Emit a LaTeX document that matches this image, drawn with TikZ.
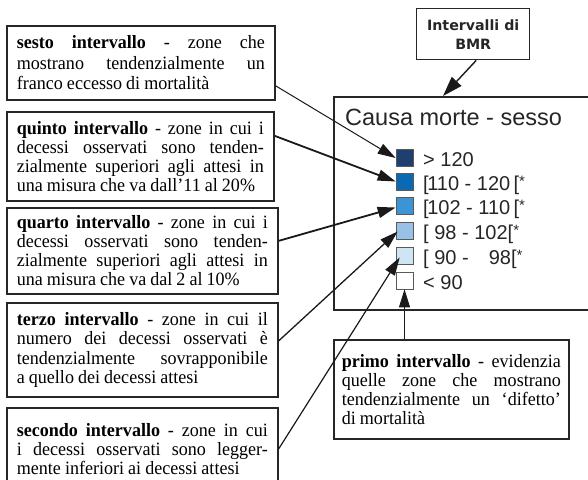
\documentclass[tikz,border=0pt]{standalone}
\usepackage{fontspec}
\setmainfont{Liberation Serif}[WordSpace=0.9,FakeStretch=0.96]
\newfontfamily\arialf{Liberation Sans}
\newfontfamily\dvsf{DejaVu Sans}
\usetikzlibrary{arrows.meta}
\hyphenpenalty=10000
\exhyphenpenalty=10000
\tolerance=9999
\emergencystretch=10pt
\definecolor{cA}{HTML}{1E3F70}
\definecolor{cB}{HTML}{0B68B3}
\definecolor{cC}{HTML}{3B95D4}
\definecolor{cD}{HTML}{99C1E8}
\definecolor{cE}{HTML}{CFE5F3}
\begin{document}
\begin{tikzpicture}[x=1pt,y=-1pt,
  tbox/.style={draw=black!85, line width=1.7pt, anchor=north west, inner xsep=10pt, inner ysep=2pt, align=justify},
  sq/.style={draw=black!65, line width=0.7pt, minimum size=17pt, inner sep=0pt},
  lab/.style={anchor=base west, inner sep=0pt, font=\arialf\fontsize{20}{20}\selectfont, text=black!85},
  arr/.style={-{Triangle[length=18pt,width=11pt]}, draw=black!90},
]
\useasboundingbox (0,0) rectangle (588,479);

% left text boxes
\node[tbox, text width=248pt, minimum height=74pt, font=\fontsize{18.8}{20.5}\selectfont] (sesto) at (6,25)
  {\textbf{sesto intervallo} - zone che\linebreak mostrano tendenzialmente un\linebreak franco eccesso di mortalità};
\node[tbox, text width=247pt, minimum height=89pt, font=\fontsize{18.8}{19}\selectfont] (quinto) at (6,111)
  {\textbf{quinto intervallo} - zone in cui i\linebreak decessi osservati sono tenden-\linebreak zialmente superiori agli attesi in\linebreak una misura che va dall’11 al 20\%};
\node[tbox, text width=251pt, minimum height=86pt, font=\fontsize{18.8}{19}\selectfont] (quarto) at (6,207)
  {\textbf{quarto intervallo} - zone in cui i\linebreak decessi osservati sono tenden-\linebreak zialmente superiori agli attesi in\linebreak una misura che va dal 2 al 10\%};
\node[tbox, text width=251pt, minimum height=94pt, font=\fontsize{18.8}{19.5}\selectfont] (terzo) at (6,302)
  {\textbf{terzo intervallo} - zone in cui il\linebreak numero dei decessi osservati è\linebreak tendenzialmente sovrapponibile\linebreak a quello dei decessi attesi};
\node[tbox, text width=251pt, minimum height=82pt, font=\fontsize{18.8}{19}\selectfont] (secondo) at (6,407)
  {\textbf{secondo intervallo} - zone in cui\linebreak i decessi osservati sono legger-\linebreak mente inferiori ai decessi attesi};

% primo box
\node[tbox, inner xsep=8pt, text width=219pt, minimum height=99pt, font=\fontsize{18.8}{19}\selectfont] (primo) at (333,339)
  {\textbf{primo intervallo} - evidenzia\linebreak quelle zone che mostrano\linebreak tendenzialmente un ‘difetto’\linebreak di mortalità};

% BMR box
\node[draw=black!85, line width=1.4pt, anchor=north west, minimum width=113pt, minimum height=51pt, inner sep=2pt, align=center,
  font=\dvsf\bfseries\fontsize{14.2}{19}\selectfont, text=black!85] (bmr) at (416,8) {Intervalli di\\BMR};

% legend box
\node[draw=black!85, line width=1.8pt, anchor=north west, minimum width=270pt, minimum height=213pt, inner sep=0pt] (legend) at (333,96) {};
\node[anchor=base west, inner sep=0pt, font=\arialf\fontsize{23.5}{23.5}\selectfont, text=black!85] (title) at (345,125.5) {Causa morte - sesso};

\node[sq, fill=cA] (s1) at (404.5,158) {};
\node[sq, fill=cB] (s2) at (404.5,181.5) {};
\node[sq, fill=cC] (s3) at (404.5,205.5) {};
\node[sq, fill=cD] (s4) at (404.5,230.5) {};
\node[sq, fill=cE] (s5) at (404.5,255.5) {};
\node[sq, fill=white] (s6) at (404.5,280.5) {};

\node[lab] (l1) at (423,166.5) {> 120};
\node[lab] (l2) at (423,190.5) {[\kern-1.5pt110 - 120\,[\raisebox{4pt}{\fontsize{15}{15}\selectfont *}};
\node[lab] (l3) at (423,214.5) {[\kern-1.5pt102 - 110\,[\raisebox{4pt}{\fontsize{15}{15}\selectfont *}};
\node[lab] (l4) at (423,239.5) {[ 98 - 102[\raisebox{4pt}{\fontsize{15}{15}\selectfont *}};
\node[lab] (l5) at (423,264.5) {[ 90 - \phantom{1}\,98[\raisebox{4pt}{\fontsize{15}{15}\selectfont *}};
\node[lab] (l6) at (423,289) {< 90};

% connectors
\draw[arr, line width=1pt] ([yshift=-23pt]sesto.east) -- (s1.west);
\draw[arr, line width=1.8pt] ([yshift=20.5pt]quinto.east) -- (s2.west);
\draw[arr, line width=1.8pt] ([yshift=10pt]quarto.east) -- ([yshift=-2pt]s3.west);
\draw[arr, line width=1.3pt] ([yshift=9pt]terzo.east) -- ([xshift=2pt,yshift=-1pt]s4.west);
\draw[arr, line width=1.2pt] (secondo.east) -- ([xshift=4pt,yshift=-2pt]s5.west);
\draw[arr, line width=1pt] (s6.south |- primo.north) -- (s6.south);
\coordinate (bmrtip) at ([xshift=110pt]legend.north west);
\draw[-{Triangle[length=20pt,width=13pt]}, draw=black!90, line width=1.4pt] ([xshift=3pt]bmr.south) -- (bmrtip);
\end{tikzpicture}
\end{document}
